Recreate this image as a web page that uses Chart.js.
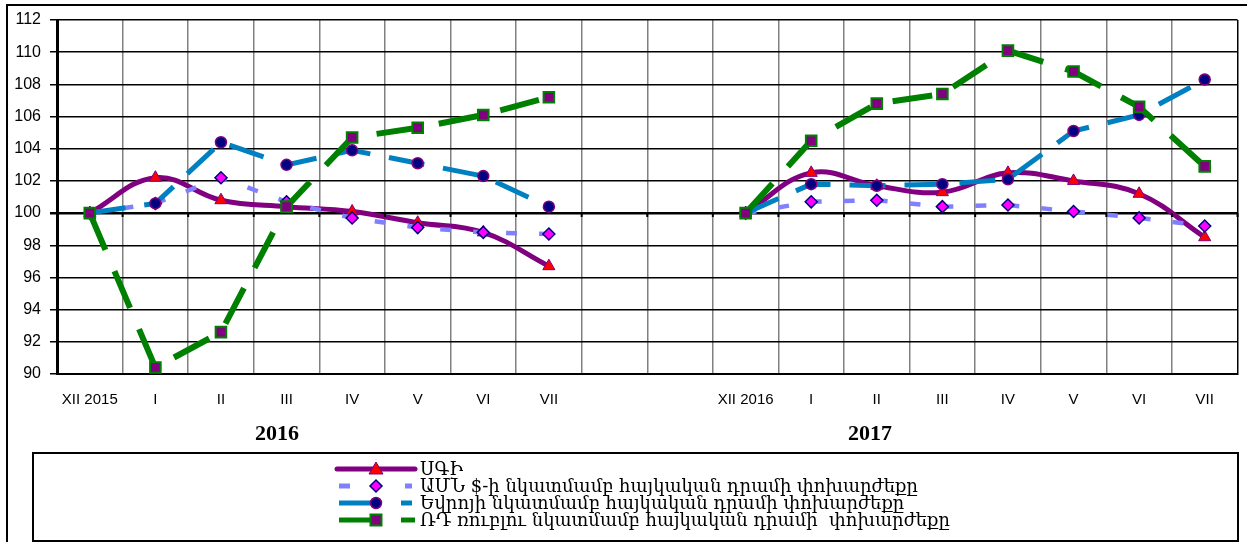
<!DOCTYPE html>
<html>
<head>
<meta charset="utf-8">
<script src="https://cdn.jsdelivr.net/npm/chart.js@4/dist/chart.umd.min.js"></script>
<style>
  html, body { margin: 0; padding: 0; background: #fff; }
  #wrap { position: relative; width: 1247px; height: 542px; overflow: hidden; }
  #c { position: absolute; left: 0; top: 0; }
  #frame { position: absolute; left: 6px; top: 4px; width: 1260px; height: 560px;
           border-left: 2px solid #000; border-top: 2px solid #000; }
  .year { position: absolute; top: 420px; font: bold 22px "Liberation Serif", serif;
          transform: translateX(-50%); color: #000; }
  #legend { position: absolute; left: 32px; top: 452px; width: 1203px; height: 86px;
            border: 2px solid #000; }
  .row { position: absolute; left: 300px; height: 18px; }
  .row svg { position: absolute; left: 0; top: 0; }
  .row span { position: absolute; left: 86px; top: -2px; white-space: pre;
              font: 18px "DejaVu Serif", serif; color: #000; }
</style>
</head>
<body>
<div id="wrap">
  <canvas id="c" width="1247" height="542"></canvas>
  <div id="frame"></div>
  <div class="year" style="left:277px">2016</div>
  <div class="year" style="left:870px">2017</div>
  <div id="legend">
    <div class="row" style="top:6px">
      <svg width="84" height="18">
        <line x1="3" y1="9" x2="81" y2="9" stroke="#800080" stroke-width="5" stroke-linecap="round"/>
        <polygon points="42,2 49,14 35,14" fill="#FF0000" stroke="#800080" stroke-width="1"/>
      </svg>
      <span>ՍԳԻ</span>
    </div>
    <div class="row" style="top:23px">
      <svg width="84" height="18">
        <line x1="5" y1="9" x2="16" y2="9" stroke="#8080FF" stroke-width="5"/>
        <line x1="71" y1="9" x2="78" y2="9" stroke="#8080FF" stroke-width="5"/>
        <polygon points="42,3 48,9 42,15 36,9" fill="#FF00FF" stroke="#000080" stroke-width="1.5"/>
      </svg>
      <span>ԱՄՆ $-ի նկատմամբ հայկական դրամի փոխարժեքը</span>
    </div>
    <div class="row" style="top:40px">
      <svg width="84" height="18">
        <line x1="5" y1="9" x2="38" y2="9" stroke="#0080C0" stroke-width="5"/>
        <line x1="67" y1="9" x2="78" y2="9" stroke="#0080C0" stroke-width="5"/>
        <circle cx="42" cy="9" r="5.5" fill="#000080" stroke="#800080" stroke-width="1.5"/>
      </svg>
      <span>Եվրոյի նկատմամբ հայկական դրամի փոխարժեքը</span>
    </div>
    <div class="row" style="top:57px">
      <svg width="84" height="18">
        <line x1="5" y1="9" x2="38" y2="9" stroke="#008000" stroke-width="5"/>
        <line x1="67" y1="9" x2="81" y2="9" stroke="#008000" stroke-width="5"/>
        <rect x="36.5" y="3.5" width="11" height="11" fill="#800080" stroke="#008000" stroke-width="2"/>
      </svg>
      <span>ՌԴ ռուբլու նկատմամբ հայկական դրամի  փոխարժեքը</span>
    </div>
  </div>
</div>
<script>
// months, two years side by side with an empty gap between them
var categories = ['XII 2015','I','II','III','IV','V','VI','VII','','','XII 2016','I','II','III','IV','V','VI','VII'];
var cpi = [100,102.2,100.8,100.4,100.1,99.4,98.8,96.7,null,null,100,102.5,101.7,101.3,102.5,102.0,101.2,98.5];
var usd = [100,100.6,102.2,100.7,99.7,99.1,98.8,98.7,null,null,100,100.7,100.8,100.4,100.5,100.1,99.7,99.2];
var eur = [100,100.6,104.4,103.0,103.9,103.1,102.3,100.4,null,null,100,101.8,101.7,101.8,102.1,105.1,106.1,108.3];
var rub = [100,90.4,92.6,100.4,104.7,105.3,106.1,107.2,null,null,100,104.5,106.8,107.4,110.1,108.8,106.6,102.9];
var crossAt = 100;

// small tick marks where the category axis crosses (at 100)
var crossTicks = {
  id: 'crossTicks',
  afterDatasetsDraw(chart) {
    var c = chart.ctx, x = chart.scales.x, y = chart.scales.y;
    var py = y.getPixelForValue(crossAt);
    c.save();
    c.strokeStyle = '#000';
    c.lineWidth = 2;
    c.beginPath();
    for (var i = 0; i <= categories.length; i++) {
      var px = x.getPixelForValue(i) - (x.getPixelForValue(1) - x.getPixelForValue(0)) / 2;
      c.moveTo(px, py);
      c.lineTo(px, py + 4);
    }
    c.stroke();
    c.restore();
  }
};

var ctx = document.getElementById('c').getContext('2d');
var chart = new Chart(ctx, {
  type: 'line',
  data: {
    labels: categories,
    datasets: [{
      label: 'ՍԳԻ',
      data: cpi,
      order: 4,
      borderColor: '#800080',
      borderWidth: 5,
      tension: 0.4,
      pointStyle: 'triangle',
      pointRadius: 7,
      pointBackgroundColor: '#FF0000',
      pointBorderColor: '#800080',
      pointBorderWidth: 1
    }, {
      label: 'ԱՄՆ $-ի նկատմամբ հայկական դրամի փոխարժեքը',
      data: usd,
      order: 3,
      borderColor: '#8080FF',
      borderWidth: 4.5,
      borderDash: [11, 22],
      pointStyle: 'rectRot',
      pointRadius: 6,
      pointBackgroundColor: '#FF00FF',
      pointBorderColor: '#000080',
      pointBorderWidth: 1.5
    }, {
      label: 'Եվրոյի նկատմամբ հայկական դրամի փոխարժեքը',
      data: eur,
      order: 2,
      borderColor: '#0080C0',
      borderWidth: 5,
      borderDash: [36, 19],
      pointStyle: 'circle',
      pointRadius: 5.5,
      pointBackgroundColor: '#000080',
      pointBorderColor: '#800080',
      pointBorderWidth: 1.5
    }, {
      label: 'ՌԴ ռուբլու նկատմամբ հայկական դրամի  փոխարժեքը',
      data: rub,
      order: 1,
      borderColor: '#008000',
      borderWidth: 6,
      borderDash: [40, 23],
      pointStyle: 'rect',
      pointRadius: 7.5,
      pointBackgroundColor: '#800080',
      pointBorderColor: '#008000',
      pointBorderWidth: 2
    }]
  },
  options: {
    responsive: false,
    animation: false,
    devicePixelRatio: 1,
    spanGaps: false,
    layout: { padding: { left: 7, top: 20, right: 8, bottom: 128 } },
    plugins: { legend: { display: false }, tooltip: { enabled: false } },
    scales: {
      x: {
        offset: true,
        grid: {
          offset: true,
          drawTicks: false,
          color: (c) => c.type === 'scale' ? '#000' : '#808080',
          lineWidth: 1.5
        },
        border: { color: '#000', width: 2 },
        ticks: {
          color: '#000',
          font: { family: 'Liberation Sans', size: 15 },
          padding: 17,
          autoSkip: false,
          maxRotation: 0
        },
        afterFit: (s) => { s.height = 40; }
      },
      y: {
        min: 90,
        max: 112,
        ticks: {
          stepSize: 2,
          color: '#000',
          font: { family: 'Liberation Sans', size: 16 },
          padding: 9
        },
        grid: {
          color: '#000',
          lineWidth: (c) => c.tick && c.tick.value === crossAt ? 2.5 : 1.5,
          tickLength: 7
        },
        border: { color: '#000', width: 3 },
        afterFit: (s) => { s.width = 50; }
      }
    }
  },
  plugins: [crossTicks]
});
</script>
</body>
</html>
